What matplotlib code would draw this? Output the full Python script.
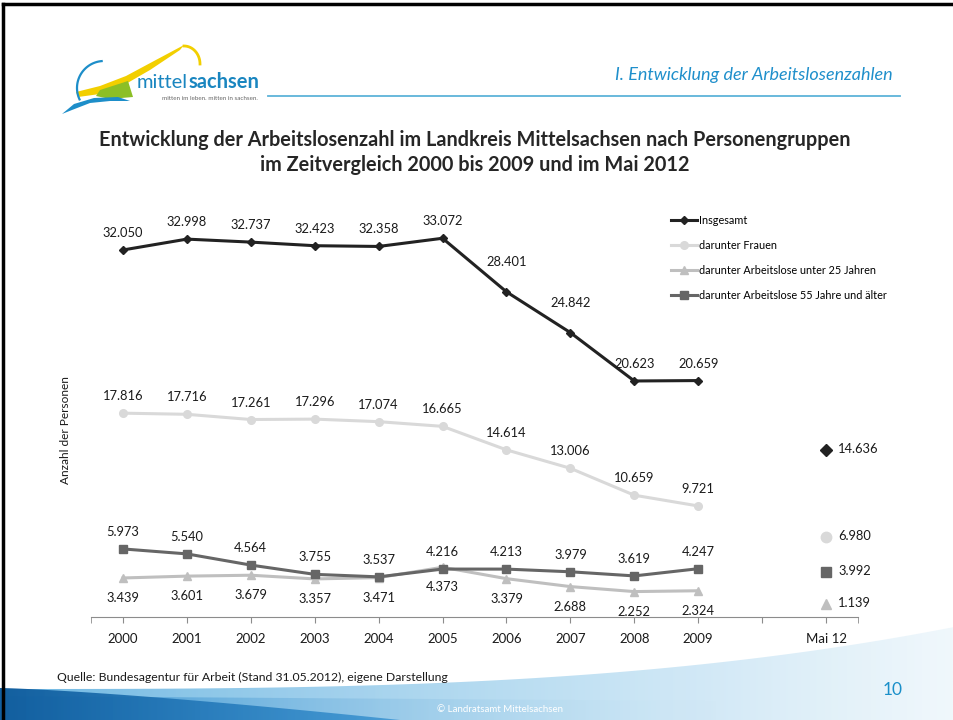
import numpy as np
import matplotlib.pyplot as plt
from matplotlib.patches import Polygon
from matplotlib.colors import to_rgb

plt.rcParams['font.family'] = ['Lato', 'DejaVu Sans']

# Daten
jahre = ['2000', '2001', '2002', '2003', '2004', '2005', '2006', '2007', '2008', '2009']
kategorien = jahre + ['', 'Mai 12']
insgesamt = [32050, 32998, 32737, 32423, 32358, 33072, 28401, 24842, 20623, 20659]
frauen = [17816, 17716, 17261, 17296, 17074, 16665, 14614, 13006, 10659, 9721]
unter25 = [3439, 3601, 3679, 3357, 3471, 4373, 3379, 2688, 2252, 2324]
ab55 = [5973, 5540, 4564, 3755, 3537, 4216, 4213, 3979, 3619, 4247]
mai12_insgesamt = 14636
mai12_frauen = 6980
mai12_unter25 = 1139
mai12_ab55 = 3992

namen = ['Insgesamt', 'darunter Frauen', 'darunter Arbeitslose unter 25 Jahren',
         'darunter Arbeitslose 55 Jahre und älter']


def fmt(v):
    return '{:,}'.format(v).replace(',', '.')


W, H = 954, 720
fig = plt.figure(figsize=(W / 100, H / 100), dpi=100)

# Hintergrund / Folie in Pixelkoordinaten
bg = fig.add_axes([0, 0, 1, 1])
bg.set_xlim(0, W)
bg.set_ylim(H, 0)
bg.axis('off')


def verlauf(xs, top, bottom, c1, c2, a1=1.0, a2=1.0):
    pts = np.column_stack([np.r_[xs, xs[::-1]], np.r_[top, bottom[::-1]]])
    poly = Polygon(pts, closed=True, fc='none', ec='none')
    bg.add_patch(poly)
    t = np.linspace(0, 1, 256)
    img = np.zeros((2, 256, 4))
    for k in range(3):
        img[:, :, k] = to_rgb(c1)[k] * (1 - t) + to_rgb(c2)[k] * t
    img[:, :, 3] = a1 * (1 - t) + a2 * t
    im = bg.imshow(img, extent=(xs.min(), xs.max(), H, min(top.min(), bottom.min())),
                   aspect='auto', interpolation='bilinear')
    im.set_clip_path(poly)


xs = np.linspace(0, W, 200)
verlauf(xs, 689 - 62 * (xs / W) ** 3.0, np.full_like(xs, H), '#6fb8e3', '#eef7fc', 1.0, 0.85)
xm = np.linspace(0, 720, 150)
verlauf(xm, 696 + 5 * (xm / 720), np.full_like(xm, H), '#2f8ecf', '#cfe7f5', 1.0, 0.0)
xd = np.linspace(0, 400, 100)
verlauf(xd, 688 + 32 * (xd / 400) ** 1.3, np.full_like(xd, H), '#135f9f', '#2f8dcf', 1.0, 0.75)
bg.set_xlim(0, W)
bg.set_ylim(H, 0)

# Rahmen
bg.plot([3, 3], [4, H], color='black', lw=2.5)
bg.plot([3, W], [4, 4], color='black', lw=2.5)

# Logo
bg.add_patch(Polygon([(76, 92), (100, 86), (126, 76), (154, 61), (184, 45), (180, 50),
                      (150, 70), (124, 85), (100, 94), (78, 97)], fc='#f2cf00', ec='none'))
tt = np.linspace(0, 1, 30)
bg.plot(184 + 16 * np.sin(tt * np.pi / 2), 46 + 18 * (1 - np.cos(tt * np.pi / 2)),
        color='#f2cf00', lw=2)
bg.add_patch(Polygon([(100, 90), (128, 81), (133, 97), (110, 99), (96, 96)],
                     fc='#8cbf26', ec='none'))
ang = np.radians(np.linspace(95, 205, 40))
bg.plot(104 + 27 * np.cos(ang), 88 - 27 * np.sin(ang), color='#1d8ec9', lw=1.6)
bg.add_patch(Polygon([(62, 114), (74, 104), (94, 98), (118, 97), (130, 101), (110, 101),
                      (90, 103), (72, 110)], fc='#1d8ec9', ec='none'))
t1 = bg.text(137, 82, 'mittel', fontsize=14.5, color='#1a86c0', va='center', ha='left')
r = fig.canvas.get_renderer()
bb = t1.get_window_extent(renderer=r)
bg.text(bb.x1, 82, 'sachsen', fontsize=14.5, color='#1a86c0', fontweight='bold',
        va='center', ha='left')
bg.text(258, 99, 'mitten im leben. mitten in sachsen.', fontsize=4.5, color='#666666',
        ha='right', va='center')
bg.plot([268, 900], [96, 96], color='#5db3d9', lw=1.3)
bg.text(893, 75, 'I. Entwicklung der Arbeitslosenzahlen', ha='right', va='center',
        style='italic', fontsize=13, color='#1f8fcb')

# Titel
bg.text(475, 140, 'Entwicklung der Arbeitslosenzahl im Landkreis Mittelsachsen nach Personengruppen',
        ha='center', va='center', fontsize=14.3, fontweight='bold', color='#262626')
bg.text(475, 165, 'im Zeitvergleich 2000 bis 2009 und im Mai 2012',
        ha='center', va='center', fontsize=14.3, fontweight='bold', color='#262626')

# Fusszeile
bg.text(57, 677, 'Quelle: Bundesagentur für Arbeit (Stand 31.05.2012), eigene Darstellung',
        fontsize=8.8, va='center', color='#1a1a1a')
bg.text(893, 690, '10', fontsize=12.5, color='#1a8fc9', ha='center', va='center')
bg.text(500, 710, '© Landratsamt Mittelsachsen', fontsize=7, color='white', ha='center', va='center')

# Diagramm
ax = fig.add_axes([91 / W, 1 - 617.4 / H, (858 - 91) / W, (617.4 - 204.7) / H])
ax.patch.set_alpha(0)
ax.set_xlim(-0.5, 11.5)
ax.set_ylim(0, 36000)
for s in ['top', 'right', 'left']:
    ax.spines[s].set_visible(False)
ax.spines['bottom'].set_color('#8c8c8c')
ax.set_yticks([])
ax.set_xticks(range(len(kategorien)))
ax.set_xticks([-0.5, 11.5], minor=True)
ax.set_xticklabels(kategorien, fontsize=9.5, color='#1a1a1a')
ax.tick_params(axis='x', which='both', length=4, color='#8c8c8c', pad=7)

x = np.arange(len(jahre))
stile = [
    (insgesamt, '#222222', 'D', 4.5, 17),
    (frauen, '#d9d9d9', 'o', 5.5, 17),
    (unter25, '#bfbfbf', '^', 6, -20),
    (ab55, '#666666', 's', 5.5, 17),
]
handles = []
for (werte, farbe, m, ms, off), name in zip(stile, namen):
    h, = ax.plot(x, werte, color=farbe, lw=2.2, marker=m, ms=ms, label=name)
    handles.append(h)
    for xi, v in zip(x, werte):
        dy = off
        if werte is insgesamt and xi in (6, 7):
            dy = 30
        ax.annotate(fmt(v), (xi, v), xytext=(0, dy), textcoords='offset pixels',
                    ha='center', va='center', fontsize=9.3, color='#1a1a1a')

mai_werte = [mai12_insgesamt, mai12_frauen, mai12_unter25, mai12_ab55]
mai_ms = [5.8, 7.5, 7.5, 7]
for (werte, farbe, m, ms, off), v, mm in zip(stile, mai_werte, mai_ms):
    ax.plot([11], [v], ls='none', marker=m, ms=mm, color=farbe)
    ax.annotate(fmt(v), (11, v), xytext=(12, 1), textcoords='offset pixels',
                ha='left', va='center', fontsize=9.3, color='#1a1a1a')

ax.legend(handles=handles, loc='upper left', bbox_to_anchor=(671 / W, 1 - 215 / H),
          bbox_transform=fig.transFigure, frameon=False, fontsize=7.8,
          handlelength=2.4, handletextpad=0.15, labelspacing=1.3, borderpad=0,
          borderaxespad=0)

fig.text(66 / W, 1 - 430 / H, 'Anzahl der Personen', rotation=90, ha='center', va='center',
         fontsize=8.6, color='#1a1a1a')

fig.savefig('out.png', dpi=100)
